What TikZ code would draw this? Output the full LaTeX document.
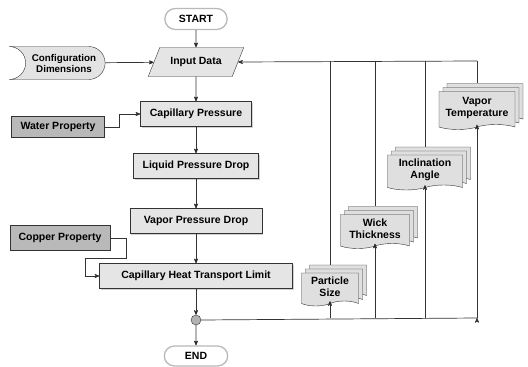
\documentclass[tikz,border=0pt]{standalone}
\usepackage{fontspec}
\setmainfont{Liberation Sans}
\usetikzlibrary{arrows,shapes.misc,shapes.geometric,shapes.symbols,shadows}

\begin{document}
\begin{tikzpicture}[x=1pt,y=-1pt,>=stealth',
  font=\bfseries\fontsize{10.5}{12}\selectfont,
  line/.style={draw=gray!40!black,line width=0.7pt},
  term node/.style={rounded rectangle,draw=gray!55,line width=1.3pt,fill=white,minimum width=69pt,minimum height=21pt},
  io node/.style={trapezium,trapezium left angle=60,trapezium right angle=120,trapezium stretches=true,
    draw=gray!40!black,fill=gray!20,minimum width=96pt,minimum height=29pt},
  data node/.style={rounded rectangle,rounded rectangle left arc=concave,
    draw=gray!40!black,fill=gray!22,align=center,minimum width=98pt,minimum height=33pt,inner xsep=1pt,
    font=\bfseries\fontsize{9.8}{11}\selectfont},
  proc node/.style={rectangle,draw=gray!40!black,fill=gray!20,minimum height=25pt,
    drop shadow={shadow xshift=1.3pt,shadow yshift=-1.3pt,fill=gray!70,opacity=.5}},
  prop node/.style={rectangle,draw=gray!40!black,fill=gray!55,minimum height=22pt},
  doc node/.style={tape,tape bend top=none,tape bend bottom=in and out,tape bend height=5pt,
    draw=gray!40!black,fill=gray!25,align=center,inner sep=2pt,
    double copy shadow={shadow xshift=4pt,shadow yshift=4pt,fill=gray!25,draw=gray!40!black}},
  join node/.style={circle,draw=gray!40!black,fill=gray!60,minimum size=10pt,inner sep=0pt}]

  \useasboundingbox (0,0) rectangle (528,367);

  \node[term node] (start) at (196,19) {START};
  \node[io node] (inp) at (196,62) {Input Data};
  \node[data node] (cfg) at (64,63) {Configuration\\Dimensions};
  \node[proc node,minimum width=111pt] (cap) at (196,114) {Capillary Pressure};
  \node[prop node,minimum width=93pt,minimum height=21pt] (wat) at (58,127) {Water Property};
  \node[proc node,minimum width=125pt] (liq) at (196,166) {Liquid Pressure Drop};
  \node[proc node,minimum width=132pt] (vap) at (196,221) {Vapor Pressure Drop};
  \node[prop node,minimum width=100pt,minimum height=25pt] (cop) at (60,238) {Copper Property};
  \node[proc node,minimum width=193pt] (chtl) at (196,276) {Capillary Heat Transport Limit};
  \node[join node] (jn) at (196,320) {};
  \node[term node,minimum width=70pt,minimum height=20pt] (end) at (196,356) {END};

  \node[doc node,minimum width=57pt,minimum height=33pt] (ps) at (330,287) {Particle\\Size};
  \node[doc node,minimum width=69pt,minimum height=34pt] (wt) at (375,229) {Wick\\Thickness};
  \node[doc node,minimum width=75pt,minimum height=35pt] (ia) at (425,170) {Inclination\\Angle};
  \node[doc node,minimum width=76pt,minimum height=38pt] (vt) at (477,108) {Vapor\\Temperature};

  \coordinate (tr) at (477,61);
  \coordinate (br) at (477,318);

  \path[line,->]
    (start) edge (inp)
    (cfg) edge (inp)
    (inp) edge (cap)
    (cap) edge (liq)
    (liq) edge (vap)
    (vap) edge (chtl)
    (chtl) edge (jn)
    (jn) edge (end);

  \draw[line,->] (wat.east) -- ++(15,0) |- (cap.west);
  \draw[line,->] (cop.east) -- ++(16,0) -- ++(0,20) -- ++(-41,0) |- (chtl.west);

  % loop back over the parameters
  \draw[line] (jn.east) -- (br);
  \draw[line,->] (tr) -- (inp.east);
  \path[line,->]
    (ps |- br) edge (ps.south)
    (wt |- br) edge (wt.south)
    (ia |- br) edge (ia.south)
    (br) edge (vt.south);
  \draw[line] (ps |- tr) -- ([yshift=8pt]ps.north);
  \draw[line] (wt |- tr) -- ([yshift=8pt]wt.north);
  \draw[line] (ia |- tr) -- ([yshift=8pt]ia.north);
  \draw[line] (tr) -- ([yshift=8pt]vt.north);
\end{tikzpicture}
\end{document}
